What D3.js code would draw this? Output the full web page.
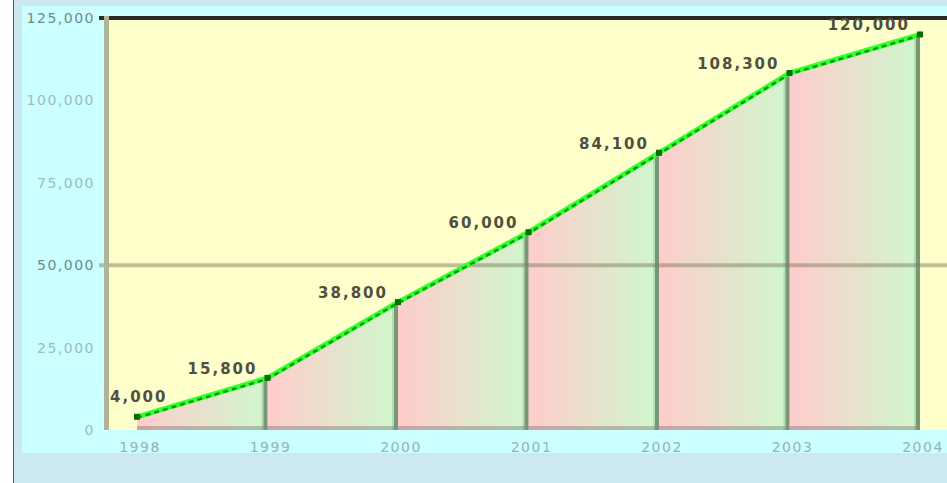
<!DOCTYPE html>
<html lang="en">
	<head>
		<meta charset="utf-8">
		<title>D3: Growth area chart</title>
		<script src="https://d3js.org/d3.v7.min.js"></script>
		<style type="text/css">
			body {
				margin: 0;
				background: #ffffff;
			}
			.tick-label {
				font-family: "DejaVu Sans", sans-serif;
				font-size: 14px;
				letter-spacing: 1.5px;
				fill: #93b4b4;
			}
			.value-label {
				font-family: "DejaVu Sans", sans-serif;
				font-weight: bold;
				font-size: 15px;
				letter-spacing: 2px;
				fill: #4f4f40;
			}
		</style>
	</head>
	<body>
		<script type="text/javascript">
			//Width and height
			var w = 947;
			var h = 483;

			//Data
			var years = ["1998", "1999", "2000", "2001", "2002", "2003", "2004"];
			var values = [4000, 15800, 38800, 60000, 84100, 108300, 120000];
			var yTicks = [0, 25000, 50000, 75000, 100000, 125000];
			var yMajor = [50000, 125000];

			//Plot box
			var plotLeft = 108;
			var plotTop = 18;
			var plotBottom = 430;

			//Scales
			var xScale = d3.scalePoint()
				.domain(years)
				.range([137, 920]);
			var yScale = d3.scaleLinear()
				.domain([0, 125000])
				.range([plotBottom, plotTop]);

			var fmt = d3.format(",");

			var svg = d3.select("body")
				.append("svg")
				.attr("width", w)
				.attr("height", h);

			//Backgrounds
			svg.append("rect").attr("x", 14).attr("y", 0).attr("width", w - 14).attr("height", h).attr("fill", "#cce8f0");
			svg.append("line").attr("x1", 13.5).attr("x2", 13.5).attr("y1", 0).attr("y2", h).attr("stroke", "#cc2a2a");
			svg.append("rect").attr("x", 22).attr("y", 6).attr("width", w - 22).attr("height", 447).attr("fill", "#ccffff");
			svg.append("rect").attr("x", plotLeft).attr("y", plotTop).attr("width", w - plotLeft).attr("height", plotBottom - plotTop).attr("fill", "#ffffcc");

			//Gradient for segments
			var grad = svg.append("defs").append("linearGradient")
				.attr("id", "seg")
				.attr("x1", 0).attr("x2", 1).attr("y1", 0).attr("y2", 0);
			grad.append("stop").attr("offset", "0%").attr("stop-color", "#ffcccc");
			grad.append("stop").attr("offset", "100%").attr("stop-color", "#cff8cc");

			//Segments between neighbouring years
			var segments = d3.range(years.length - 1).map(function(i) {
				return [
					{ year: years[i], value: values[i] },
					{ year: years[i + 1], value: values[i + 1] }
				];
			});

			var area = d3.area()
				.x(function(d) { return xScale(d.year); })
				.y0(yScale(0))
				.y1(function(d) { return yScale(d.value); });

			svg.append("g")
				.selectAll("path")
				.data(segments)
				.enter()
				.append("path")
				.attr("d", area)
				.attr("fill", "url(#seg)");

			//Shadow edges: bottom and right of each segment
			svg.append("g")
				.selectAll("line")
				.data(segments)
				.enter()
				.append("line")
				.attr("x1", function(d) { return xScale(d[0].year); })
				.attr("x2", function(d) { return xScale(d[1].year) - 4; })
				.attr("y1", yScale(0) - 2)
				.attr("y2", yScale(0) - 2)
				.attr("stroke", "#504848")
				.attr("stroke-opacity", 0.3)
				.attr("stroke-width", 4);

			svg.append("g")
				.selectAll("line")
				.data(segments)
				.enter()
				.append("line")
				.attr("x1", function(d) { return xScale(d[1].year) - 5; })
				.attr("x2", function(d) { return xScale(d[1].year) - 5; })
				.attr("y1", function(d) { return yScale(d[1].value); })
				.attr("y2", yScale(0))
				.attr("stroke", "#304830")
				.attr("stroke-opacity", 0.15)
				.attr("stroke-width", 2);

			svg.append("g")
				.selectAll("line")
				.data(segments)
				.enter()
				.append("line")
				.attr("x1", function(d) { return xScale(d[1].year) - 2; })
				.attr("x2", function(d) { return xScale(d[1].year) - 2; })
				.attr("y1", function(d) { return yScale(d[1].value); })
				.attr("y2", yScale(0))
				.attr("stroke", "#304830")
				.attr("stroke-opacity", 0.55)
				.attr("stroke-width", 4);

			//Grid line at 50,000
			svg.append("line")
				.attr("x1", 99).attr("x2", w)
				.attr("y1", yScale(50000)).attr("y2", yScale(50000))
				.attr("stroke", "#808060")
				.attr("stroke-opacity", 0.5)
				.attr("stroke-width", 4);

			//Top border
			svg.append("line")
				.attr("x1", 99).attr("x2", w)
				.attr("y1", yScale(125000)).attr("y2", yScale(125000))
				.attr("stroke", "#2c2c24")
				.attr("stroke-width", 4);

			//Left axis line
			svg.append("line")
				.attr("x1", 106.5).attr("x2", 106.5)
				.attr("y1", plotTop - 2).attr("y2", plotBottom)
				.attr("stroke", "#b0b498")
				.attr("stroke-width", 5);

			//Y labels
			svg.append("g")
				.selectAll("text")
				.data(yTicks)
				.enter()
				.append("text")
				.attr("class", "tick-label")
				.attr("x", 95)
				.attr("y", function(d) { return yScale(d); })
				.attr("dy", "0.35em")
				.attr("text-anchor", "end")
				.style("fill", function(d) { return yMajor.indexOf(d) >= 0 ? "#6c8c8c" : "#9bbcbc"; })
				.text(function(d) { return fmt(d); });

			//X labels
			svg.append("g")
				.selectAll("text")
				.data(years)
				.enter()
				.append("text")
				.attr("class", "tick-label")
				.attr("x", function(d) { return xScale(d) + 3; })
				.attr("y", 452)
				.attr("text-anchor", "middle")
				.text(function(d) { return d; });

			//Green line
			var line = d3.line()
				.x(function(d, i) { return xScale(years[i]); })
				.y(function(d) { return yScale(d); });

			svg.append("path")
				.datum(values)
				.attr("d", line)
				.attr("fill", "none")
				.attr("stroke", "#33ff33")
				.attr("stroke-width", 5);
			svg.append("path")
				.datum(values)
				.attr("d", line)
				.attr("fill", "none")
				.attr("stroke", "#00a000")
				.attr("stroke-width", 2.5)
				.attr("stroke-dasharray", "5,4")
				.attr("transform", "translate(0,1)");

			//Markers
			svg.append("g")
				.selectAll("rect")
				.data(values)
				.enter()
				.append("rect")
				.attr("x", function(d, i) { return xScale(years[i]) - 3; })
				.attr("y", function(d) { return yScale(d) - 3; })
				.attr("width", 6)
				.attr("height", 6)
				.attr("fill", "#006e00");

			//Value labels, to the upper left of each point
			svg.append("g")
				.selectAll("text")
				.data(values)
				.enter()
				.append("text")
				.attr("class", "value-label")
				.attr("text-anchor", "end")
				.text(function(d) { return fmt(d); })
				.each(function(d, i) {
					var tw = this.getComputedTextLength();
					var px = xScale(years[i]);
					var py = yScale(d);
					var right = px - 10;
					var base = py - 4;
					if (right - tw < plotLeft + 2) {
						//pushed right by the axis, so lift it over the line
						right = plotLeft + 2 + tw;
						base = py - 15;
					}
					d3.select(this).attr("x", right).attr("y", base);
				});
		</script>
	</body>
</html>
